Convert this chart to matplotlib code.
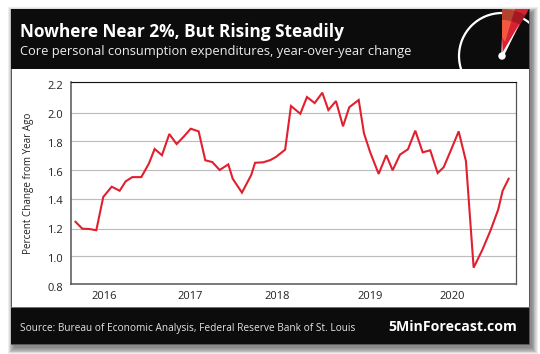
import numpy as np
import matplotlib
matplotlib.use("Agg")
import matplotlib.pyplot as plt
from matplotlib.patches import Rectangle, Polygon, Circle, Arc, Wedge
from matplotlib.transforms import Affine2D

TITLE = "Nowhere Near 2%, But Rising Steadily"
SUBTITLE = "Core personal consumption expenditures, year-over-year change"
SOURCE = "Source: Bureau of Economic Analysis, Federal Reserve Bank of St. Louis"
BRAND = "5MinForecast.com"
YLABEL = "Percent Change from Year Ago"

months = [0, 0.93, 1.88, 2.84, 3.79, 4.94, 6.03, 6.85, 7.75, 8.98,
          10.03, 10.8, 11.8, 12.8, 13.8, 14.78, 15.72, 16.8, 17.71, 18.66,
          19.67, 20.85, 21.45, 22.71, 23.98, 24.5, 25.6, 26.6, 27.35, 28.6,
          29.4, 30.67, 31.58, 32.63, 33.67, 34.5, 35.54, 36.5, 37.35, 38.64,
          39.36, 40.18, 41.36, 42.4, 43.27, 44.27, 45.36, 46.36, 47.37, 48.4,
          49.41, 50.23, 51.23, 52.28, 53.27, 54.32, 55.5, 56.65, 57.68, 58.28, 59.1]
pce = [1.25, 1.204, 1.202, 1.193, 1.416, 1.487, 1.459, 1.524, 1.553, 1.553,
       1.648, 1.747, 1.704, 1.852, 1.781, 1.834, 1.89, 1.871, 1.669, 1.657,
       1.602, 1.641, 1.542, 1.446, 1.568, 1.652, 1.655, 1.671, 1.692, 1.742,
       2.047, 1.997, 2.105, 2.066, 2.133, 2.021, 2.079, 1.907, 2.039, 2.086,
       1.857, 1.728, 1.575, 1.704, 1.6, 1.708, 1.745, 1.876, 1.724, 1.738,
       1.581, 1.621, 1.74, 1.871, 1.664, 0.918, 1.047, 1.195, 1.333, 1.459, 1.542]
year_ticks = [3.89, 15.62, 27.49, 40.17, 51.36]
year_labels = ["2016", "2017", "2018", "2019", "2020"]
y_ticks = [0.8, 1.0, 1.2, 1.4, 1.6, 1.8, 2.0, 2.2]
y_labels = ["0.8", "1.0", "1.2", "1.4", "1.6", "1.8", "2.0", "2.2"]
# the reference's y axis is slightly uneven: height of each tick above the baseline
y_tick_heights = [0, 27.7, 54.7, 84.7, 113.7, 142.7, 170.7, 201.7]
y_label_nudge = [3, 1.7, 0, 1, 1.5, 1.5, 0.5, 2.7]

W, H = 540, 354
plt.rcParams["font.family"] = ["Open Sans", "DejaVu Sans"]
fig = plt.figure(figsize=(W / 100, H / 100), dpi=100, facecolor="white")

# page overlay in pixel coordinates
bg = fig.add_axes([0, 0, 1, 1], zorder=0)
bg.set_xlim(0, W); bg.set_ylim(H, 0); bg.axis("off")

L, R, T, B = 11, 528.5, 9, 344
for i in range(8):
    g = 6 - i * 0.8
    bg.add_patch(Rectangle((L + 3 - g, T + 4 - g), R - L + 2 * g, B - T + 2 * g,
                           fc="black", ec="none", alpha=0.07))
bg.add_patch(Rectangle((L, T), R - L, B - T, fc="white", ec="#555555", lw=0.7))
black = "#0c0c0c"
header = Rectangle((L, T), R - L, 60, fc=black, ec="none")
bg.add_patch(header)
bg.add_patch(Rectangle((L, 307), R - L, B - 307, fc=black, ec="none"))
bg.plot([L, R], [306.5, 306.5], color="#777777", lw=0.7)

# gauge
cx, cy = 502, 56
main = Polygon([(cx, cy), (cx, T), (R, T)], fc="#d92231", ec="none", zorder=2)
bg.add_patch(main)
main.set_clip_path(header)
light = Polygon([(cx, 37), (cx, T), (515, T), (505, 42)], fc="#f1593f", ec="none", zorder=3)
bg.add_patch(light)
band = Wedge((cx, cy), 47, 0, 360, width=11, fc="black", ec="none", alpha=0.25, zorder=4)
bg.add_patch(band)
band.set_clip_path(main)
ring = Arc((cx, cy), 86, 86, theta1=0, theta2=360, ec="white", lw=1.6, zorder=1.5)
bg.add_patch(ring)
ring.set_clip_path(header)
bg.add_patch(Polygon([(cx - 0.7, cy), (cx, 37), (cx + 0.7, cy)], fc="white", ec="none", zorder=5))
bg.add_patch(Polygon([(cx - 1.6, cy), (520, 23), (cx + 1.6, cy + 0.5)], fc="white", ec="none", zorder=5))
bg.add_patch(Circle((cx, cy), 3.7, fc="white", ec="none", zorder=6))

bg.text(20, 32, TITLE, color="white", fontsize=12.4, fontweight="bold", va="center", ha="left")
bg.text(20, 52, SUBTITLE, color="#eeeeee", fontsize=9.28, va="center", ha="left")
bg.text(19.5, 328, SOURCE, color="#e4e4e4", fontsize=7.25, va="center", ha="left")
bg.text(517, 327, BRAND, color="white", fontsize=10.2, fontweight="bold", va="center", ha="right")
bg.text(29, 183, YLABEL, color="#222222", fontsize=7.15, rotation=90, va="center", ha="center")

# chart
ax = fig.add_axes([70.5 / W, 1 - 284 / H, (516 - 70.5) / W, (284 - 82.3) / H], zorder=1)
ax.patch.set_alpha(0)
ax.set_yscale("function", functions=(lambda v: np.interp(v, y_ticks, y_tick_heights),
                                     lambda p: np.interp(p, y_tick_heights, y_ticks)))
ax.set_xlim(-0.68, 60.1)
ax.set_ylim(0.8, 2.2)
ax.set_yticks(y_ticks, y_labels)
ax.set_xticks(year_ticks, year_labels)
ax.minorticks_off()
ax.tick_params(axis="both", length=0, labelsize=8, labelcolor="#222222")
ax.tick_params(axis="y", pad=5.5)
ax.tick_params(axis="x", pad=5)
for lab, dy in zip(ax.get_yticklabels(), y_label_nudge):
    lab.set_transform(lab.get_transform() + Affine2D().translate(0, -dy))
ax.grid(axis="y", color="#bdbdbd", lw=0.85)
ax.set_axisbelow(True)
for side, c, w in [("left", "#555555", 1.1), ("bottom", "#555555", 1.1),
                   ("top", "#111111", 0.8), ("right", "#555555", 0.9)]:
    ax.spines[side].set_color(c)
    ax.spines[side].set_linewidth(w)
ax.plot(months, pce, color="#e1202f", lw=1.5, solid_joinstyle="miter", clip_on=False)

fig.savefig("out.png", dpi=100)
